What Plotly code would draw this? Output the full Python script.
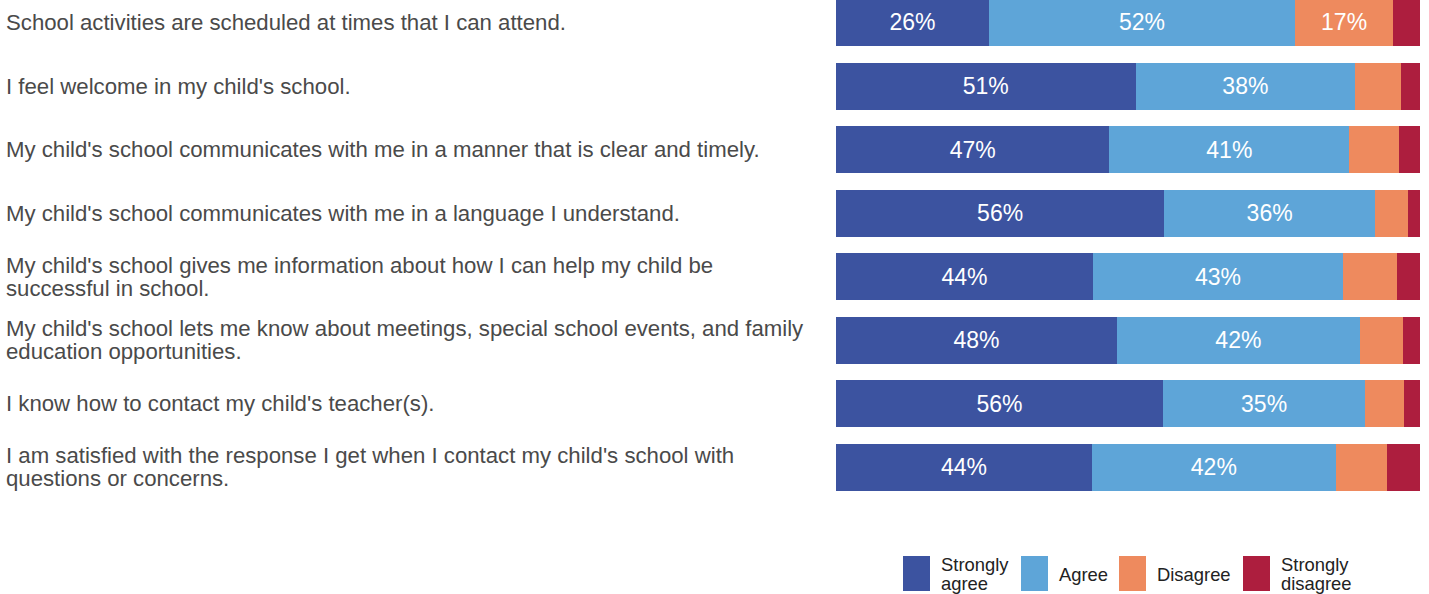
import plotly.graph_objects as go

W, H = 1429, 594

questions = [
    "School activities are scheduled at times that I can attend.",
    "I feel welcome in my child's school.",
    "My child's school communicates with me in a manner that is clear and timely.",
    "My child's school communicates with me in a language I understand.",
    "My child's school gives me information about how I can help my child be<br>successful in school.",
    "My child's school lets me know about meetings, special school events, and family<br>education opportunities.",
    "I know how to contact my child's teacher(s).",
    "I am satisfied with the response I get when I contact my child's school with<br>questions or concerns.",
]
categories = [f"q{i+1}" for i in range(len(questions))]

strongly_agree = [26.2, 51.3, 46.8, 56.2, 44.0, 48.1, 56.0, 43.8]
agree = [52.4, 37.6, 41.1, 36.1, 42.8, 41.6, 34.6, 41.8]
disagree = [16.8, 7.8, 8.5, 5.7, 9.2, 7.4, 6.7, 8.7]
strongly_disagree = [4.6, 3.3, 3.6, 2.0, 4.0, 2.9, 2.7, 5.7]

series_names = ["Strongly agree", "Agree", "Disagree", "Strongly disagree"]
legend_labels = ["Strongly<br>agree", "Agree", "Disagree", "Strongly<br>disagree"]
series_values = [strongly_agree, agree, disagree, strongly_disagree]
colors = ["#3C53A0", "#5EA5D8", "#EE8A5E", "#AD1E3E"]

FONT = "Liberation Sans, Arial, sans-serif"

fig = go.Figure()
for name, vals, col in zip(series_names, series_values, colors):
    fig.add_trace(go.Bar(
        y=categories, x=vals, orientation="h", name=name,
        marker=dict(color=col, line=dict(width=0)),
        text=[f"{v:.0f}%" if v >= 10 else "" for v in vals],
        textposition="inside", insidetextanchor="middle", textangle=0,
        textfont=dict(color="white", size=23, family=FONT),
        hoverinfo="skip", showlegend=False,
    ))

# plot region in pixels
x0, x1 = 836, 1420
y_top, y_bot = 0, 499

annotations = []
for cat, q in zip(categories, questions):
    lines = q.split("<br>")
    n = len(lines)
    for k, line in enumerate(lines):
        shift = (n - 1) * 11.5 - k * 23
        annotations.append(dict(
            x=4 / W, xref="paper", y=cat, yref="y", yshift=shift,
            text=line, showarrow=False, xanchor="left", yanchor="middle",
            align="left", font=dict(size=22.2, color="#4a4a4a", family=FONT),
        ))

# manual legend
shapes = []
leg_sq_x = [903, 1021, 1119, 1243]
sq_w = 27
sq_top, sq_bottom = 556, 591
for lx, col, lab in zip(leg_sq_x, colors, legend_labels):
    shapes.append(dict(type="rect", xref="paper", yref="paper",
                       x0=lx / W, x1=(lx + sq_w) / W,
                       y0=1 - sq_bottom / H, y1=1 - sq_top / H,
                       fillcolor=col, line=dict(width=0)))
    lab_lines = lab.split("<br>")
    n = len(lab_lines)
    for k, line in enumerate(lab_lines):
        cy = 574 - (n - 1) * 9.5 + k * 19
        annotations.append(dict(
            x=(lx + sq_w + 9) / W, xref="paper", y=1 - cy / H, yref="paper",
            text=line, showarrow=False, xanchor="left", yanchor="middle",
            font=dict(size=18.4, color="#222222", family=FONT),
        ))

fig.update_layout(
    width=W, height=H,
    barmode="stack", bargap=0.26,
    margin=dict(l=0, r=0, t=0, b=0),
    paper_bgcolor="white", plot_bgcolor="white",
    xaxis=dict(domain=[x0 / W, x1 / W], range=[0, 100], visible=False, fixedrange=True),
    yaxis=dict(domain=[1 - y_bot / H, 1 - y_top / H], categoryorder="array",
               categoryarray=categories, range=[7.5, -0.354],
               visible=False, fixedrange=True),
    annotations=annotations, shapes=shapes,
    uniformtext=dict(mode=False),
    font=dict(family=FONT),
)

fig.write_html(
    "out.html",
    config={"displayModeBar": False},
    post_script="document.body.style.margin='0';document.body.style.overflow='hidden';",
)
